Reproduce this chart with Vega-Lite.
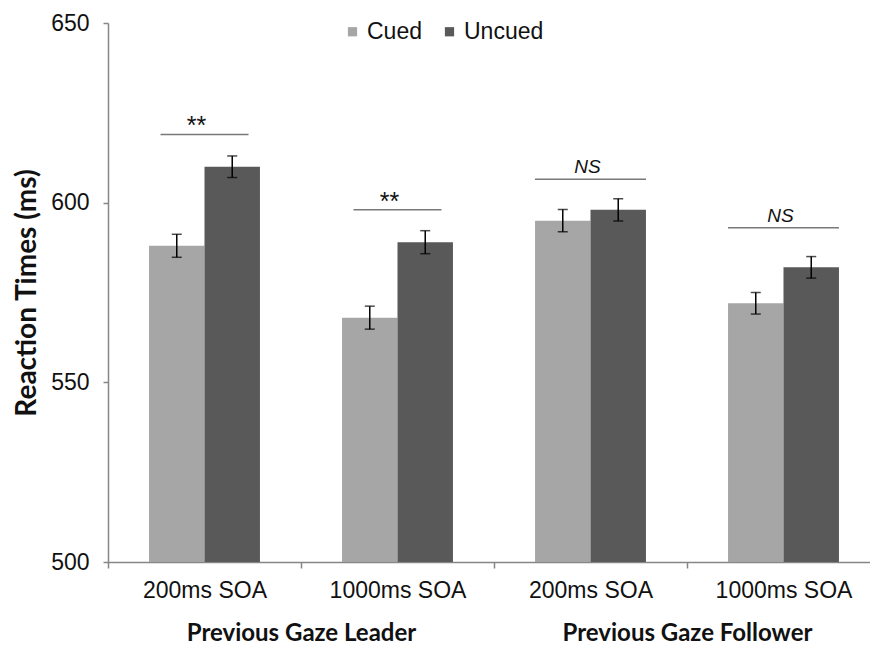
{
  "$schema": "https://vega.github.io/schema/vega-lite/v6.json",
  "autosize": "none",
  "width": 762,
  "height": 539,
  "padding": {"left": 108, "top": 23, "right": 0, "bottom": 84},
  "background": "white",
  "config": {"view": {"stroke": null}, "font": "Liberation Sans"},
  "datasets": {
    "bars": [
      {"cond": "Leader|200ms SOA", "group": "Previous Gaze Leader", "cue": "Cued", "rt": 588, "lo": 584.8, "hi": 591.2},
      {"cond": "Leader|200ms SOA", "group": "Previous Gaze Leader", "cue": "Uncued", "rt": 610, "lo": 607, "hi": 613},
      {"cond": "Leader|1000ms SOA", "group": "Previous Gaze Leader", "cue": "Cued", "rt": 568, "lo": 564.8, "hi": 571.2},
      {"cond": "Leader|1000ms SOA", "group": "Previous Gaze Leader", "cue": "Uncued", "rt": 589, "lo": 585.8, "hi": 592.2},
      {"cond": "Follower|200ms SOA", "group": "Previous Gaze Follower", "cue": "Cued", "rt": 595, "lo": 591.9, "hi": 598.1},
      {"cond": "Follower|200ms SOA", "group": "Previous Gaze Follower", "cue": "Uncued", "rt": 598, "lo": 594.9, "hi": 601.1},
      {"cond": "Follower|1000ms SOA", "group": "Previous Gaze Follower", "cue": "Cued", "rt": 572, "lo": 569, "hi": 575},
      {"cond": "Follower|1000ms SOA", "group": "Previous Gaze Follower", "cue": "Uncued", "rt": 582, "lo": 579, "hi": 585}
    ],
    "stars": [
      {"cond": "Leader|200ms SOA", "label": "**", "level": 619},
      {"cond": "Leader|1000ms SOA", "label": "**", "level": 598}
    ],
    "ns": [
      {"cond": "Follower|200ms SOA", "label": "NS", "level": 606.5},
      {"cond": "Follower|1000ms SOA", "label": "NS", "level": 593}
    ]
  },
  "layer": [
    {
      "encoding": {
        "x": {
          "field": "cond",
          "type": "nominal",
          "scale": {
            "domain": ["Leader|200ms SOA", "Leader|1000ms SOA", "Follower|200ms SOA", "Follower|1000ms SOA"],
            "range": [0, 772],
            "paddingInner": 0,
            "paddingOuter": 0
          },
          "axis": {
            "orient": "bottom",
            "title": null,
            "labelExpr": "split(datum.label, '|')[1]",
            "labelAngle": 0,
            "labelFontSize": 23,
            "labelColor": "#111111",
            "labelPadding": 11,
            "tickBand": "extent",
            "tickSize": 6,
            "tickColor": "#868686",
            "tickWidth": 1.5,
            "domainColor": "#868686",
            "domainWidth": 1.5,
            "grid": false
          }
        }
      },
      "layer": [
        {
          "data": {"name": "bars"},
          "mark": {"type": "bar", "clip": true},
          "encoding": {
            "xOffset": {"field": "cue", "type": "nominal", "scale": {"domain": ["Cued", "Uncued"], "paddingInner": 0, "paddingOuter": 0.74}},
            "y": {
              "field": "rt",
              "type": "quantitative",
              "scale": {"domain": [500, 650], "nice": false, "zero": false},
              "axis": {
                "values": [500, 550, 600, 650],
                "title": "Reaction Times (ms)",
                "titleFont": "Lato",
                "titleFontWeight": "bold",
                "titleFontSize": 28,
                "titleColor": "#111111",
                "titlePadding": 9,
                "labelFontSize": 23,
                "labelColor": "#111111",
                "labelPadding": 14,
                "tickSize": 5,
                "tickColor": "#868686",
                "tickWidth": 1.5,
                "domainColor": "#868686",
                "domainWidth": 1.5,
                "grid": false
              }
            },
            "color": {
              "field": "cue",
              "type": "nominal",
              "scale": {"domain": ["Cued", "Uncued"], "range": ["#a6a6a6", "#595959"]},
              "legend": {
                "title": null,
                "orient": "none",
                "direction": "horizontal",
                "legendX": 233,
                "legendY": -3,
                "symbolType": "square",
                "symbolSize": 85,
                "symbolStrokeWidth": 0,
                "labelFontSize": 23,
                "labelColor": "#111111",
                "labelOffset": 3,
                "columnPadding": 16
              }
            }
          }
        },
        {
          "data": {"name": "bars"},
          "mark": {"type": "rule", "color": "#000000", "strokeWidth": 1.5},
          "encoding": {
            "xOffset": {"field": "cue", "type": "nominal"},
            "y": {"field": "lo", "type": "quantitative"},
            "y2": {"field": "hi"}
          }
        },
        {
          "data": {"name": "bars"},
          "mark": {"type": "tick", "color": "#000000", "size": 10, "thickness": 1.5},
          "encoding": {
            "xOffset": {"field": "cue", "type": "nominal"},
            "y": {"field": "lo", "type": "quantitative"}
          }
        },
        {
          "data": {"name": "bars"},
          "mark": {"type": "tick", "color": "#000000", "size": 10, "thickness": 1.5},
          "encoding": {
            "xOffset": {"field": "cue", "type": "nominal"},
            "y": {"field": "hi", "type": "quantitative"}
          }
        },
        {
          "data": {"name": "stars"},
          "mark": {"type": "tick", "color": "#404040", "size": 88, "thickness": 1.5},
          "encoding": {"y": {"field": "level", "type": "quantitative"}}
        },
        {
          "data": {"name": "stars"},
          "mark": {"type": "text", "fontSize": 25, "color": "#111111", "baseline": "alphabetic", "dy": 0, "dx": -8},
          "encoding": {"y": {"field": "level", "type": "quantitative"}, "text": {"field": "label"}}
        },
        {
          "data": {"name": "ns"},
          "mark": {"type": "tick", "color": "#404040", "size": 111, "thickness": 1.5},
          "encoding": {"y": {"field": "level", "type": "quantitative"}}
        },
        {
          "data": {"name": "ns"},
          "mark": {"type": "text", "fontSize": 19, "fontStyle": "italic", "color": "#111111", "baseline": "alphabetic", "dy": -6, "dx": -3},
          "encoding": {"y": {"field": "level", "type": "quantitative"}, "text": {"field": "label"}}
        }
      ]
    },
    {
      "data": {"name": "bars"},
      "mark": {"type": "point", "opacity": 0},
      "encoding": {
        "x": {
          "field": "group",
          "type": "nominal",
          "scale": {"domain": ["Previous Gaze Leader", "Previous Gaze Follower"], "range": [0, 772], "paddingInner": 0, "paddingOuter": 0},
          "axis": {
            "orient": "bottom",
            "title": null,
            "domain": false,
            "ticks": false,
            "labelAngle": 0,
            "labelFont": "Lato",
            "labelFontWeight": "bold",
            "labelFontSize": 24,
            "labelLimit": 0,
            "labelColor": "#111111",
            "labelPadding": 59
          }
        },
        "y": {"field": "rt", "type": "quantitative"}
      }
    }
  ],
  "resolve": {"scale": {"x": "independent"}, "axis": {"x": "independent"}}
}
